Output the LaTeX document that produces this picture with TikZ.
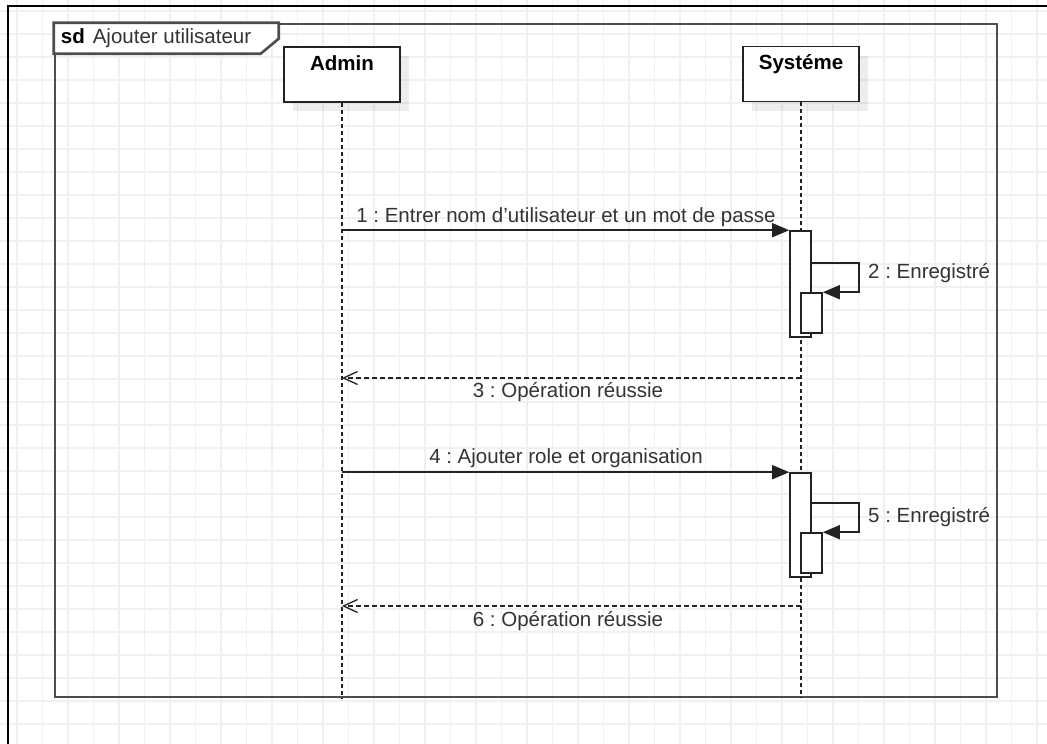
\documentclass[tikz,border=0pt]{standalone}
\usepackage{fontspec}
\setmainfont{Liberation Sans}
\usetikzlibrary{arrows.meta,calc,shadows}
\frenchspacing

\definecolor{gridc}{HTML}{F0F0F0}
\definecolor{ink}{HTML}{222222}
\definecolor{framec}{HTML}{4D4D4D}
\definecolor{labelc}{HTML}{333333}

\begin{document}
\begin{tikzpicture}[x=1pt,y=-1pt,
  font=\fontsize{20.5}{24}\selectfont,
  head/.style={draw=ink, line width=1.6pt, fill=white, minimum width=116pt,
    minimum height=55pt, inner sep=0pt,
    drop shadow={shadow xshift=9pt, shadow yshift=-9pt, fill=black, opacity=0.07}},
  act/.style={draw=ink, line width=1.6pt, fill=white, minimum width=21pt, inner sep=0pt},
  life/.style={draw=ink, line width=1.8pt, dash pattern=on 4pt off 3pt},
  msg/.style={draw=ink, line width=1.6pt, -{Triangle[length=17pt,width=14pt]}},
  ret/.style={draw=ink, line width=1.3pt, dash pattern=on 5pt off 3pt,
    -{Straight Barb[length=14pt,width=13pt,line width=1.3pt]}},
  lbl/.style={text=labelc, inner sep=0pt, anchor=base},
  title/.style={text=black, inner sep=0pt, anchor=base, font=\fontsize{20.5}{24}\selectfont\bfseries},
]
% canvas
\useasboundingbox (0,0) rectangle (1047,744);
\fill[white] (0,0) rectangle (1047,744);

% background grid
\foreach \i in {0,...,40}
  \draw[gridc, line width=1.1pt] ({17+25.5*\i},0) -- ({17+25.5*\i},744);
\foreach \j in {0,...,31}
  \draw[gridc, line width=1.1pt] (0,{11+23*\j}) -- (1047,{11+23*\j});

% page border
\draw[black, line width=2pt] (8,744) -- (8,6) -- (1047,6);

% interaction frame and its tab
\node[draw=framec, line width=2.6pt, minimum width=942pt, minimum height=673pt,
  inner sep=0pt] (frame) at (526,360.5) {};
\draw[draw=framec, line width=2.6pt, fill=white] (frame.north west) -- ++(225,0)
  -- ++(0,16) -- ++(-18,15) -- ++(-207,0) -- cycle;
\node[anchor=base west, inner sep=0pt, text=labelc] (sd) at ($(frame.north west)+(7,21)$)
  {\textbf{\color{black}sd}\hspace{8pt}Ajouter utilisateur};

% lifeline heads
\node[head] (admin) at (342,74.5) {};
\node[head] (sys) at (801,74) {};
\node[title] (adminT) at ($(admin.north)+(0,24)$) {Admin};
\node[title] (sysT) at ($(sys.north)+(0,24)$) {Systéme};

% lifelines
\draw[life] (admin.south) -- (admin.south |- frame.south);
\draw[life] (sys.south) -- (sys.south |- frame.south);

% activation bars
\node[act, minimum height=106pt] (a1) at (800.5,284) {};
\node[act, minimum height=40pt] (n1) at (811.5,313) {};
\node[act, minimum height=104pt] (a2) at (800.5,525) {};
\node[act, minimum height=40pt] (n2) at (811.5,553) {};

% reply end points on the system lifeline
\coordinate (r1) at (801,378);
\coordinate (r2) at (801,606);

% messages
\draw[msg] (admin.south |- a1.north) -- (a1.north west);
\draw[msg] ($(a1.north east)+(0,33)$) -| ($(n1.north east)+(36,0)$) -- (n1.north east);
\draw[ret] (r1) -- (admin.south |- r1);
\draw[msg] (admin.south |- a2.north) -- (a2.north west);
\draw[msg] ($(a2.north east)+(0,31)$) -| ($(n2.north east)+(36,0)$) -- (n2.north east);
\draw[ret] (r2) -- (admin.south |- r2);

% message labels
\node[lbl] (l1) at (566,222) {1 : Entrer nom d’utilisateur et un mot de passe};
\node[lbl, anchor=base west] (l2) at (868,278) {2 : Enregistré};
\node[lbl] (l3) at (568,397) {3 : Opération réussie};
\node[lbl] (l4) at (566,463) {4 : Ajouter role et organisation};
\node[lbl, anchor=base west] (l5) at (868,522) {5 : Enregistré};
\node[lbl] (l6) at (568,626) {6 : Opération réussie};
\end{tikzpicture}
\end{document}
